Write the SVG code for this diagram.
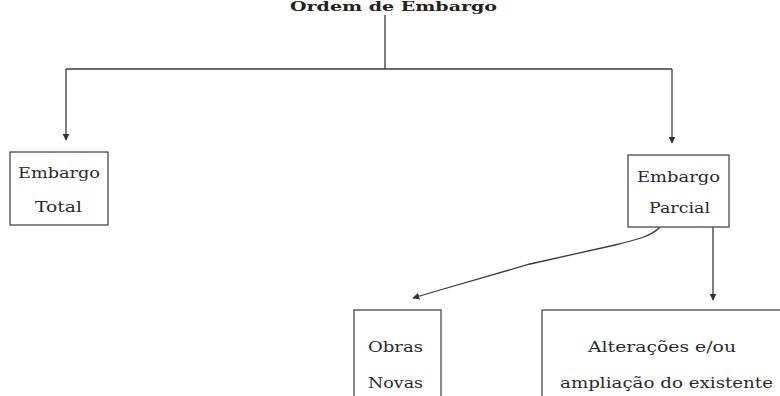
<svg xmlns="http://www.w3.org/2000/svg" width="780" height="396" viewBox="0 0 780 396">
<defs>
<style>
.box{fill:#fff;stroke:#3a3a3a;stroke-width:1.2}
.ln{fill:none;stroke:#3a3a3a;stroke-width:1.3}
.t{font-family:"DejaVu Serif","Liberation Serif",serif;font-size:15px;fill:#2a2a2a}
.title{font-family:"DejaVu Serif","Liberation Serif",serif;font-size:13px;font-weight:bold;fill:#222}
</style>
<marker id="ah" viewBox="0 0 10 10" refX="9" refY="5" markerWidth="7" markerHeight="7" orient="auto" markerUnits="userSpaceOnUse">
<path d="M0,0 L10,5 L0,10 z" fill="#333"/>
</marker>
</defs>
<rect width="780" height="396" fill="#fff"/>
<text class="title" x="290" y="11" textLength="207" lengthAdjust="spacingAndGlyphs">Ordem de Embargo</text>
<g id="connectors">
<line class="ln" x1="385" y1="15" x2="385" y2="69"/>
<line class="ln" x1="66" y1="69" x2="672" y2="69"/>
<line class="ln" x1="66" y1="69" x2="66" y2="140" marker-end="url(#ah)"/>
<line class="ln" x1="672" y1="69" x2="672" y2="143" marker-end="url(#ah)"/>
<path class="ln" d="M660,227 C652,236 636,240 615,245 L530,264 L440,290 L413,298" marker-end="url(#ah)"/>
<line class="ln" x1="713" y1="227" x2="713" y2="300" marker-end="url(#ah)"/>
</g>
<g id="embargo-total">
<rect class="box" x="10" y="152" width="98" height="73"/>
<text class="t" x="18" y="178" textLength="82" lengthAdjust="spacingAndGlyphs">Embargo</text>
<text class="t" x="35" y="212" textLength="47" lengthAdjust="spacingAndGlyphs">Total</text>
</g>
<g id="embargo-parcial">
<rect class="box" x="628" y="155" width="101" height="72"/>
<text class="t" x="637" y="182" textLength="83" lengthAdjust="spacingAndGlyphs">Embargo</text>
<text class="t" x="649" y="213" textLength="61" lengthAdjust="spacingAndGlyphs">Parcial</text>
</g>
<g id="obras-novas">
<rect class="box" x="354" y="310" width="87" height="100"/>
<text class="t" x="368" y="352" textLength="55" lengthAdjust="spacingAndGlyphs">Obras</text>
<text class="t" x="368" y="388" textLength="55" lengthAdjust="spacingAndGlyphs">Novas</text>
</g>
<g id="alteracoes">
<rect class="box" x="542" y="310" width="260" height="100"/>
<text class="t" x="588" y="352" textLength="148" lengthAdjust="spacingAndGlyphs">Alterações e/ou</text>
<text class="t" x="560" y="388" textLength="213" lengthAdjust="spacingAndGlyphs">ampliação do existente</text>
</g>
</svg>
